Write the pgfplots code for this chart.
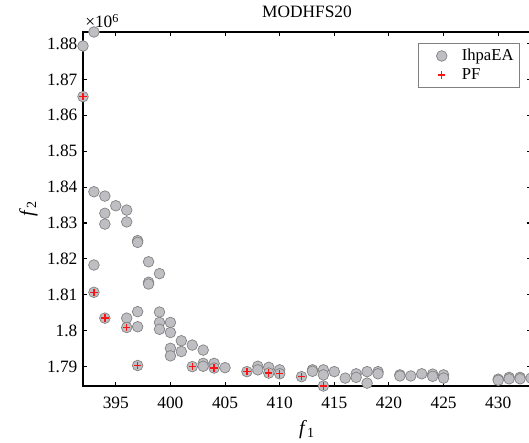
\documentclass[border=0pt]{standalone}
\usepackage{fontspec}
\setmainfont{Liberation Serif}
\usepackage{pgfplots}
\pgfplotsset{compat=1.18}
\definecolor{markgray}{RGB}{190,190,195}
\definecolor{edgegray}{RGB}{128,128,128}
\definecolor{pfred}{RGB}{250,20,20}
\pgfplotsset{widelegend/.style={legend image code/.code={\path[draw=none,fill=none] (-15.75pt,-1pt) rectangle (13pt,1pt);\draw[##1,only marks] plot coordinates {(0pt,0pt)};}}}

\pgfplotstableread{
x y
392 1.8793
392 1.8652
393 1.8832
393 1.8387
393 1.8183
393 1.8107
394 1.8375
394 1.8327
394 1.8297
394 1.8035
395 1.8348
396 1.8336
396 1.8303
396 1.8035
396 1.8009
397 1.8251
397 1.8246
397 1.8053
397 1.8011
397 1.7903
398 1.8192
398 1.8135
398 1.8130
399 1.8159
399 1.8052
399 1.8023
399 1.8004
400 1.8023
400 1.7995
400 1.7951
400 1.7930
401 1.7972
401 1.7942
402 1.7960
402 1.7900
403 1.7946
403 1.7909
403 1.7901
404 1.7909
404 1.7896
405 1.7897
407 1.7886
408 1.7901
408 1.7891
409 1.7898
409 1.7882
410 1.7891
410 1.7880
412 1.7872
413 1.7891
413 1.7887
414 1.7891
414 1.7877
414 1.7846
415 1.7886
416 1.7868
417 1.7880
417 1.7870
418 1.7886
418 1.7854
419 1.7886
419 1.7880
421 1.7877
421 1.7874
422 1.7874
423 1.7880
424 1.7879
424 1.7873
425 1.7877
425 1.7868
430 1.7865
430 1.7862
431 1.7870
431 1.7866
432 1.7870
432 1.7866
433 1.7868
}\ihpaea

\pgfplotstableread{
x y
392 1.8652
393 1.8107
394 1.8035
396 1.8009
397 1.7903
402 1.7900
404 1.7896
407 1.7886
409 1.7882
410 1.7880
412 1.7872
414 1.7846
}\pf

\begin{document}
\fontsize{12pt}{14pt}\selectfont
\begin{tikzpicture}
\begin{axis}[
  at={(0,0)}, anchor=south west,
  scale only axis, width=336pt, height=265.5pt,
  xmin=392, xmax=433, ymin=1.7846, ymax=1.8832,
  xtick={395,400,405,410,415,420,425,430},
  ytick={1.79,1.8,1.81,1.82,1.83,1.84,1.85,1.86,1.87,1.88},
  tick align=inside,
  major tick length=3pt,
  axis line style={line width=1pt},
  every tick/.style={black, line width=0.8pt},
  tick label style={font=\fontsize{13pt}{15pt}\selectfont},
  /pgf/number format/assume math mode=true,
  yticklabel style={/pgf/number format/fixed, /pgf/number format/precision=2},
  xticklabel style={/pgf/number format/fixed, yshift=-4pt},
  xlabel={\textit{f}\textsubscript{1}},
  ylabel={\textit{f}\textsubscript{2}},
  xlabel style={at={(axis description cs:0.5,-0.124)}, anchor=center, font=\fontsize{15pt}{17pt}\selectfont},
  ylabel style={at={(axis description cs:-0.122,0.5)}, anchor=center, font=\fontsize{15pt}{17pt}\selectfont},
  legend style={at={(1,1)}, anchor=north east, xshift=-8.8pt, yshift=-8.5pt,
    draw=gray, line width=0.5pt, font=\fontsize{12.5pt}{14pt}\selectfont,
    cells={anchor=west}, row sep=0pt, inner xsep=2pt, inner ysep=2pt},
  clip=false,
]
\addplot[only marks, mark=*, mark size=4pt,
  mark options={fill=markgray, draw=edgegray, line width=0.5pt},
  widelegend] table[x=x,y=y] {\ihpaea};
\addlegendentry{IhpaEA}
\addplot[only marks, mark=+, mark size=2.8pt, color=pfred,
  mark options={line width=1.05pt, draw=pfred},
  widelegend] table[x=x,y=y] {\pf};
\addlegendentry{PF}
\node[anchor=base west, inner sep=0pt, font=\fontsize{13pt}{15pt}\selectfont] at ([xshift=1.5pt, yshift=3pt]axis description cs:0,1) {×10\textsuperscript{6}};
\node[anchor=base, inner sep=0pt, font=\fontsize{13pt}{15pt}\selectfont] at ([yshift=10.5pt]axis description cs:0.5,1) {MODHFS20};
\end{axis}
\pgfresetboundingbox
\path (-62.25pt,-42.75pt) rectangle (334.5pt,289.5pt);
\end{tikzpicture}
\end{document}
